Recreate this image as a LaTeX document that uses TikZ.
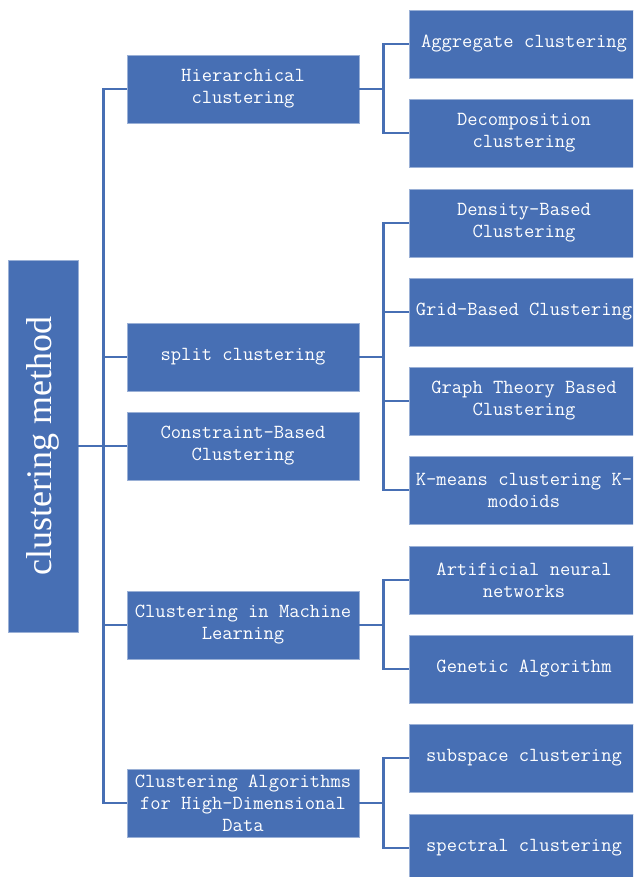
\documentclass[tikz,border=0pt]{standalone}
\usepackage{fontspec}
\newfontfamily\rootfont{Liberation Serif}

\definecolor{boxblue}{RGB}{71,111,180}

\begin{document}
\begin{tikzpicture}[
  x=1pt, y=-1pt,
  every node/.style={font=\fontsize{20}{22}\selectfont\ttfamily, text=white},
  rootbox/.style={rectangle, fill=boxblue, draw=boxblue!55!white, line width=0.6pt,
    minimum width=372pt, minimum height=70pt, rotate=90, inner sep=0pt,
    font=\fontsize{36}{40}\selectfont\rootfont},
  groupbox/.style={rectangle, fill=boxblue, draw=boxblue!55!white, line width=0.6pt,
    minimum width=232pt, minimum height=68pt, align=center, inner sep=2pt},
  leafbox/.style={groupbox, minimum width=230pt},
  link/.style={draw=boxblue, line width=2.8pt}
]

\clip (0,0) rectangle (633,877);

% root (rotated, so its south side faces right)
\node[rootbox] (root) at (43,446) {clustering method};

% second level
\node[groupbox] (hier) at (243,89) {Hierarchical\\clustering};
\node[groupbox] (split) at (243,357) {split clustering};
\node[groupbox] (constraint) at (243,446) {Constraint-Based\\Clustering};
\node[groupbox] (machine) at (243,625) {Clustering in Machine\\Learning};
\node[groupbox] (highdim) at (243,803) {Clustering Algorithms\\for High-Dimensional\\Data};

% leaves
\node[leafbox] (aggregate) at (524,44) {Aggregate clustering};
\node[leafbox] (decomp) at (524,133) {Decomposition\\clustering};
\node[leafbox] (density) at (524,223) {Density-Based\\Clustering};
\node[leafbox] (grid) at (524,312) {Grid-Based Clustering};
\node[leafbox] (graph) at (524,401) {Graph Theory Based\\Clustering};
\node[leafbox] (kmeans) at (524,490) {K-means clustering K-\\modoids};
\node[leafbox] (ann) at (524,580) {Artificial neural\\networks};
\node[leafbox] (genetic) at (524,669) {Genetic Algorithm};
\node[leafbox] (subspace) at (524,758) {subspace clustering};
\node[leafbox] (spectral) at (524,848) {spectral clustering};

% root to second level
\draw[link] (root.south) -- ++(25,0) |- (hier.west);
\draw[link] (root.south) -- ++(25,0) |- (split.west);
\draw[link] (root.south) -- ++(25,0) |- (constraint.west);
\draw[link] (root.south) -- ++(25,0) |- (machine.west);
\draw[link] (root.south) -- ++(25,0) |- (highdim.west);

% second level to leaves
\draw[link] (hier.east) -- ++(24,0) |- (aggregate.west);
\draw[link] (hier.east) -- ++(24,0) |- (decomp.west);
\draw[link] (split.east) -- ++(24,0) |- (density.west);
\draw[link] (split.east) -- ++(24,0) |- (grid.west);
\draw[link] (split.east) -- ++(24,0) |- (graph.west);
\draw[link] (split.east) -- ++(24,0) |- (kmeans.west);
\draw[link] (machine.east) -- ++(24,0) |- (ann.west);
\draw[link] (machine.east) -- ++(24,0) |- (genetic.west);
\draw[link] (highdim.east) -- ++(24,0) |- (subspace.west);
\draw[link] (highdim.east) -- ++(24,0) |- (spectral.west);

\end{tikzpicture}
\end{document}
